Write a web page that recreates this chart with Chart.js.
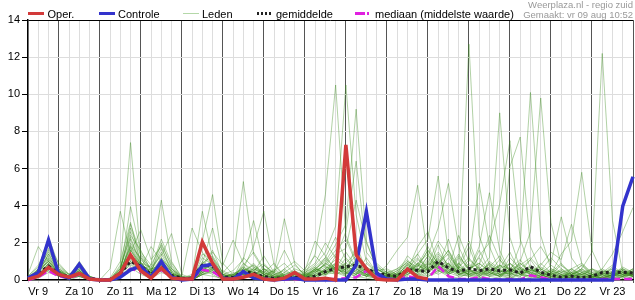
<!DOCTYPE html>
<html>
<head>
<meta charset="utf-8">
<script src="https://cdn.jsdelivr.net/npm/chart.js@4/dist/chart.umd.min.js"></script>
<style>
  body { margin: 0; background: #fff; }
</style>
</head>
<body>
<canvas id="myChart" width="635" height="300"></canvas>
<script>
// tijdstappen van 6 uur, vanaf vr 9 aug 06:00 (index 0) t/m za 24 00:00 (index 59)
const dagen = ['Vr 9', 'Za 10', 'Zo 11', 'Ma 12', 'Di 13', 'Wo 14', 'Do 15', 'Vr 16',
               'Za 17', 'Zo 18', 'Ma 19', 'Di 20', 'Wo 21', 'Do 22', 'Vr 23'];
const yTicks = [0, 2, 4, 6, 8, 10, 12, 14];

// neerslag in mm per 6 uur
const oper = [0.05,0.2,0.68,0.3,0.15,0.35,0.05,0,0,0.37,
              1.35,0.5,0.1,0.65,0.1,0.05,0.05,2.05,0.9,0.05,
              0.05,0.15,0.3,0.05,0,0.1,0.4,0.05,0.05,0.1,
              0,7.27,1.35,0.6,0.05,0,0,0.58,0.15,0.05];
const controle = [0.1,0.4,2.15,0.3,0.1,0.85,0.05,0,0,0.15,
                  0.55,0.75,0.15,1.0,0.15,0,0.05,0.75,0.85,0.1,
                  0.05,0.45,0.1,0.05,0,0.05,0.1,0,0,0,
                  0,0,0.8,3.68,0.36,0.05,0,0.05,0.05,0,
                  0,0,0,0,0,0,0,0,0,0,
                  0,0,0,0,0,0,0,0,3.98,5.56];
const gemiddelde = [0.05,0.35,0.75,0.35,0.15,0.35,0.1,0.02,0.02,0.35,
                    1.0,0.75,0.3,0.7,0.25,0.1,0.1,0.8,0.75,0.15,
                    0.15,0.45,0.36,0.18,0.1,0.1,0.15,0.08,0.2,0.45,
                    0.63,0.72,0.8,0.6,0.38,0.27,0.2,0.55,0.52,0.45,
                    1.0,0.65,0.45,0.63,0.5,0.6,0.5,0.55,0.37,0.72,
                    0.42,0.25,0.15,0.2,0.12,0.2,0.4,0.4,0.42,0.37];
const mediaan = [0,0.15,0.5,0.2,0.1,0.3,0.05,0,0,0.2,
                 0.6,0.45,0.15,0.55,0.15,0.05,0.05,0.55,0.45,0.1,
                 0.05,0.3,0.15,0.05,0.02,0.02,0.05,0.02,0.02,0.05,
                 0.05,0.1,0.15,0.5,0.15,0.05,0.05,0.2,0.1,0.05,
                 0.75,0.2,0.05,0.05,0.15,0.05,0.02,0.05,0.02,0.25,
                 0.15,0.02,0.02,0.02,0.02,0.02,0.05,0.05,0.05,0.05];
const leden = [
  [0,0.3,0.9,0.4,0.1,0.5,0.1,0,0,0.8, 7.4,1.2,0.3,0.6,0.2,0,0,0.5,0.9,0.1, 0,0.4,0.2,0.1,0,0,0.2,0,0.3,0.5, 0.8,0.4,0.2,0.1,0,0,0,0.3,0.6,0.2, 0.4,1.2,0.3,0.2,0.5,0.8,0.3,0.2,0,0.1, 0.2,0,0,0.3,0.5,0.1,0,0.2,0.4,0.3],
  [0.1,0.5,1.6,0.6,0.2,0.7,0.1,0,0,0.5, 3.95,1.5,0.8,4.3,1.0,0.1,0,0.3,0.6,0, 0.1,0.8,1.5,0.6,0.2,0.1,0,0,0.4,0.9, 1.6,2.2,0.9,0.4,0.2,0.1,0.3,0.8,1.4,0.5, 0.9,0.3,0.6,1.8,0.4,0.2,0.1,0.6,1.1,0.3, 0.1,0,0.2,0.6,0.9,0.3,0.1,0.2,0.5,0.2],
  [0,0.2,0.6,0.3,0.1,0.3,0,0,0.6,3.7, 1.4,0.6,0.2,0.9,0.3,0,0.1,1.2,0.8,0.2, 0,0.1,0.6,0.3,0.1,0.6,0.2,0.1,0.2,0.3, 0.6,1.5,0.7,0.2,0.6,0.3,0.1,0.2,0.9,1.4, 0.5,0.2,0.1,0.4,1.6,0.5,0.2,0.9,0.3,0.1, 0.5,1.2,0.6,0.2,0.1,0,0.3,0.7,0.2,0.1],
  [0.1,0.6,1.2,0.5,0.2,0.4,0.1,0,0.1,1.0, 3.1,0.9,0.4,1.1,0.6,0.1,0.3,2.1,4.6,0.9, 0.3,0.2,0.1,0.8,0.3,0.1,0,0.2,0.6,1.1, 0.4,0.3,1.9,0.5,0.2,0,0,0.4,0.8,0.5, 1.9,0.6,0.2,0.3,0.8,2.4,1.1,0.3,0.2,0.6, 0.3,0.1,0,0.2,0.3,0.1,0.4,0.8,0.3,0.2],
  [0,0.1,0.4,0.2,0,0.2,0,0,0,0.3, 2.2,0.8,0.5,0.7,0.2,0,0.2,3.7,1.2,0.4, 1.0,5.3,1.4,0.5,0.1,0.3,0.1,0,0.5,0.2, 0.9,0.6,0.3,1.2,0.4,0.2,0.1,0.6,0.3,0.8, 1.1,0.4,0.9,0.2,0.1,0.3,0.6,1.5,0.4,0.2, 0.1,0.3,0.8,0.4,0.1,0,0.1,0.3,0.6,0.2],
  [0.2,0.8,1.9,0.9,0.3,0.6,0.2,0,0,0.4, 1.8,1.2,0.6,0.8,0.3,0.1,0,0.6,0.5,0.3, 0.5,1.1,3.2,0.8,0.4,3.3,0.9,0.2,0.1,0.4, 0.7,0.2,0.1,0.3,0.9,0.4,0.2,0.5,1.8,2.6, 0.8,1.6,0.5,0.3,0.2,0.7,1.3,0.4,0.1,0.3, 0.9,0.4,0.1,0.2,0.6,0.3,0.1,0,0.2,0.5],
  [0,0.3,0.8,0.3,0.1,0.4,0.1,0,0,0.2, 1.5,2.7,1.1,1.8,0.4,0.1,0.1,0.8,1.6,0.3, 0.2,0.6,1.8,3.7,0.8,0.2,0.1,0.3,0.7,1.2, 2.3,1.1,0.6,0.2,0.1,0.3,0.2,0.9,0.5,0.4, 1.3,0.7,0.3,0.5,1.2,0.4,0.2,0.1,0.3,0.8, 0.4,0.2,0.3,0.1,0,0.1,0.4,0.2,0.1,0.3],
  [0.1,0.4,1.1,0.4,0.1,0.3,0,0,0.1,0.6, 2.6,1.0,0.2,0.5,0.1,0,0,0.4,0.7,0.1, 0,0.3,0.1,0.4,0.9,0.2,0.1,0.3,1.4,4.6, 10.5,2.4,1.0,0.6,0.3,0.1,0.3,0.6,0.2,0.4, 0.8,0.3,1.2,0.6,0.2,0.4,0.8,0.3,0.6,1.1, 0.3,0.1,0.2,0.4,0.2,0.1,0,0.3,0.2,0.6],
  [0,0.2,0.5,0.2,0.1,0.2,0,0,0,0.3, 1.1,0.5,0.3,0.6,0.2,0,0,0.3,0.5,0.1, 0.2,0.4,0.9,0.3,0.1,0.2,0.6,0.4,0.8,1.5, 2.9,10.5,3.5,1.0,0.4,0.2,0.1,0.3,0.7,1.6, 0.6,0.9,0.3,0.4,0.7,0.3,0.2,0.5,0.9,0.4, 0.2,0.5,0.3,0.1,0.2,0.6,0.3,0.1,0,0.2],
  [0.1,0.3,0.7,0.3,0.1,0.4,0.1,0,0,0.2, 0.9,0.4,0.2,1.2,0.5,0.1,0,0.6,0.3,0, 0.1,0.2,0.5,0.2,0,0.1,0.3,0.1,0.6,1.0, 1.9,3.0,9.2,2.1,0.6,0.3,0.2,0.5,0.2,0.6, 1.0,0.4,0.8,2.1,0.6,0.2,0.4,0.9,0.3,0.2, 0.6,0.3,0.1,0.4,0.8,0.3,0.1,0.2,0.4,0.3],
  [0,0.4,1.4,0.5,0.2,0.5,0.1,0,0,0.5, 1.9,0.8,0.4,2.0,0.7,0.1,0.1,1.0,0.6,0.2, 0.3,0.7,0.4,1.3,0.4,0.2,0.1,0.5,0.9,2.0, 1.2,2.6,6.4,1.5,0.8,0.3,0.1,0.4,1.1,0.7, 0.3,0.6,1.4,0.5,0.3,0.9,0.4,0.2,0.7,0.3, 0.1,0.2,0.6,0.3,0.1,0.2,0.5,0.3,0.1,0.4],
  [0.1,0.5,1.0,0.4,0.2,0.6,0.1,0,0,0.4, 1.6,0.7,0.3,0.8,0.2,0,0,0.5,1.0,0.3, 0.1,0.3,0.2,0.6,0.3,0.1,0.2,0.6,1.3,0.7, 0.6,0.4,0.8,0.3,0.2,0.1,0.4,1.0,0.6,0.9, 2.1,1.3,0.6,12.7,2.4,0.8,0.3,0.1,0.4,0.6, 0.3,0.1,0,0.2,0.4,0.2,0.1,0.3,0.5,0.2],
  [0,0.2,0.9,0.4,0.1,0.3,0,0,0,0.6, 2.4,1.6,0.5,1.4,0.4,0.1,0.2,0.9,1.3,0.4, 0.2,0.5,0.3,0.1,0.6,0.2,0.1,0.3,0.5,0.8, 1.4,1.7,4.3,2.0,0.7,0.4,0.2,0.6,0.3,0.2, 0.5,0.9,0.4,1.1,0.6,1.2,9.0,2.3,0.6,0.3, 0.2,0.4,0.1,0.3,0.6,0.2,0.1,0.4,0.3,0.2],
  [0.2,0.7,1.5,0.7,0.3,0.8,0.2,0,0,0.3, 1.3,0.6,0.4,0.9,0.3,0.1,0,0.4,0.7,0.2, 0.1,0.9,0.5,0.2,0.1,0.4,0.2,0,0.3,0.6, 0.9,0.5,1.1,0.6,0.3,0.8,1.6,2.3,5.1,1.2, 0.7,0.4,1.3,0.6,0.2,0.5,0.8,0.4,1.9,10.1, 2.4,0.6,0.3,0.1,0.2,0.4,0.3,0.1,0.2,0.5],
  [0,0.3,0.6,0.3,0.1,0.2,0,0,0,0.4, 0.8,0.5,0.2,0.7,0.4,0.1,0,0.3,0.2,0.1, 0.3,0.6,0.4,0.2,0.1,0.3,0.5,0.2,0.4,0.9, 0.5,0.8,0.4,0.2,0.6,0.3,0.2,0.5,1.4,2.2, 5.6,1.5,0.6,0.3,0.4,0.9,0.5,0.3,1.0,2.6, 9.8,3.1,0.8,0.3,0.2,0.1,0.4,0.6,0.3,0.2],
  [0.1,0.4,1.0,0.5,0.2,0.4,0.1,0,0,0.2, 1.2,0.9,0.4,1.0,0.3,0,0.1,0.6,0.9,0.2, 0.1,0.2,0.7,0.4,0.2,0.1,0,0.2,0.5,0.3, 0.7,0.3,0.9,0.5,0.2,0.1,0.3,0.8,0.5,1.3, 2.8,5.2,1.8,0.6,0.3,0.4,0.2,0.6,0.3,0.5, 0.2,0.4,0.9,0.3,0.6,1.5,12.2,3.2,0.4,0.2],
  [0,0.2,0.7,0.2,0.1,0.3,0,0,0,0.5, 1.7,0.6,0.3,0.6,0.2,0.1,0,0.5,0.8,0.1, 0.4,0.3,0.1,0.5,0.2,0,0.1,0.4,0.2,0.6, 1.1,0.7,0.3,0.9,0.4,0.2,0.1,0.3,0.6,0.4, 0.9,1.6,0.7,0.4,1.3,2.0,4.1,7.5,2.2,0.6, 0.3,0.8,0.4,0.2,0.1,0.3,0.2,0.4,0.6,0.3],
  [0.1,0.6,1.3,0.5,0.2,0.5,0.1,0,0,0.3, 1.0,0.4,0.6,2.2,0.9,0.2,0,0.4,0.6,0.2, 0.2,0.7,0.3,0.1,0.3,0.5,0.2,0.1,0.4,0.7, 0.4,1.2,0.6,0.3,0.1,0.4,0.6,1.1,0.4,0.8, 1.5,0.8,0.3,0.6,0.9,0.5,0.7,6.1,7.7,1.8, 0.5,0.2,0.1,0.6,0.3,0.2,0.1,0.3,0.2,0.4],
  [0,0.3,0.8,0.4,0.1,0.3,0.1,0,0,0.3, 1.4,0.7,0.2,0.5,0.1,0,0,0.3,0.4,0.1, 0,0.5,0.2,0.6,0.4,0.1,0.3,0.2,0.6,0.4, 0.8,0.5,0.3,0.6,0.2,0.1,0.2,0.5,0.9,0.6, 1.2,0.5,0.9,0.4,0.2,0.6,0.3,0.5,0.8,1.2, 0.6,0.3,1.4,2.1,5.8,1.6,0.4,0.2,0.5,0.3],
  [0.1,0.5,1.7,0.6,0.2,0.9,0.1,0,0,0.6, 2.8,1.3,0.5,1.5,0.6,0.1,0.2,1.4,1.1,0.3, 0.1,0.4,0.8,0.3,0.1,0.2,0.4,0.1,0.5,1.2, 0.6,0.9,1.5,0.7,0.3,0.2,0.5,1.0,0.7,1.6, 0.9,0.6,2.4,1.0,5.2,1.8,0.5,0.3,0.6,0.4, 0.2,0.5,0.3,0.1,0.4,0.6,0.2,0.1,0.3,0.5],
  [0,0.2,0.5,0.2,0.1,0.4,0,0,0,0.4, 1.2,0.5,0.8,1.9,0.8,0.1,0,0.5,0.9,0.2, 0.3,0.2,0.6,0.4,0.1,0.3,0.1,0.2,0.6,0.3, 0.4,0.7,0.5,0.2,0.1,0.3,0.6,0.9,0.4,0.7, 1.4,0.8,0.3,0.5,1.8,4.7,1.6,0.4,0.2,0.5, 0.4,0.2,0.5,0.3,0.8,0.2,0.6,1.4,2.6,3.9],
  [0.1,0.4,1.1,0.5,0.1,0.3,0.1,0,0,0.2, 1.6,0.9,0.7,1.3,2.5,0.3,0.1,0.6,0.4,0.1, 0.2,0.3,0.1,0.2,0.5,0.9,0.3,0.2,0.1,0.4, 0.6,0.3,0.7,0.4,0.2,0.5,0.3,0.6,1.2,0.5, 0.7,2.2,0.6,0.3,0.5,0.2,0.8,0.6,0.4,1.1, 1.8,0.9,3.4,1.2,0.4,0.2,0.1,0.3,0.7,0.4],
  [0,0.3,0.7,0.3,0.1,0.5,0.1,0,0,0.3, 1.0,0.6,0.3,0.8,0.3,0.2,2.8,1.5,0.7,0.2, 0.3,0.6,0.4,0.2,0.1,0.4,0.8,0.3,0.2,0.5, 0.9,0.4,0.2,0.5,0.3,0.1,0.4,0.7,0.5,1.1, 0.6,0.3,0.7,1.2,0.5,0.3,0.6,0.9,0.5,0.3, 0.8,1.5,1.1,3.0,0.9,0.4,0.2,0.5,0.3,0.6],
  [0.2,0.5,1.2,0.5,0.2,0.6,0.1,0,0,0.5, 1.8,0.7,0.4,0.6,0.2,0.1,0.1,0.7,1.5,0.8, 2.15,0.9,0.3,0.6,0.2,0.1,0.3,0.2,0.5,0.8, 0.3,0.6,1.0,0.4,0.2,0.3,0.1,0.4,0.8,1.8, 0.8,0.4,0.2,0.6,0.9,0.4,0.3,1.2,0.6,0.4, 0.3,0.1,0.4,0.6,0.2,0.1,0.5,0.4,0.2,0.3],
  [0,0.6,2.3,0.8,0.3,0.7,0.1,0,0,0.4, 1.4,0.8,0.3,0.9,0.5,0.1,0,0.4,0.6,0.2, 0.1,0.5,0.8,0.4,0.2,0.6,1.0,0.5,2.1,1.3, 0.5,0.7,1.3,0.6,0.3,0.2,0.1,0.5,0.3,0.6, 1.1,0.6,0.4,0.9,0.3,1.0,0.6,0.2,0.5,0.7, 0.4,0.2,0.1,0.5,0.3,0.6,0.4,0.2,0.6,0.4],
  [0.3,1.8,1.0,0.4,0.2,1.0,0.2,0,0,0.2, 0.7,0.3,0.1,0.4,0.2,0,0,0.3,0.5,0.1, 0,0.2,0.4,0.1,0,0.2,0.1,0.3,0.2,0.5, 0.3,0.6,0.9,0.3,0.1,0,0.2,0.6,0.4,1.0, 0.5,0.3,0.6,0.3,0.1,0.4,0.2,0.6,0.3,0.2, 0.1,0.3,0.2,0.1,0.4,0.2,0.1,0.3,0.5,0.2],
  [0.1,0.4,1.4,0.6,0.3,0.5,0.2,0,0,0.3, 2.0,1.1,0.5,1.7,0.6,0.2,0.1,0.9,2.8,0.5, 0.2,0.4,0.6,0.3,0.5,0.2,0.1,0.4,0.7,0.3, 1.3,0.8,0.4,0.2,0.5,0.6,0.3,1.3,0.8,0.5, 0.9,1.4,0.5,0.3,0.6,0.4,1.1,0.5,0.3,0.6, 0.3,0.5,0.2,0.4,0.3,0.1,0.3,0.6,0.4,0.2],
  [0,0.3,0.9,0.3,0.1,0.3,0.1,0,0,0.4, 1.3,0.6,1.8,1.0,0.3,0.1,0,0.6,0.9,0.1, 0,0.6,0.3,0.2,0.4,1.6,0.5,0.2,0.3,0.9, 0.6,0.4,0.3,0.7,0.4,0.2,0.5,0.8,0.4,0.9, 0.6,0.9,0.4,0.2,0.4,0.7,0.5,0.3,0.9,0.5, 0.6,0.3,0.5,0.2,0.1,0.3,0.6,0.3,0.2,0.4],
  [0.1,0.2,0.6,0.2,0.1,0.2,0,0,0,0.5, 3.0,1.4,0.6,0.7,0.3,0,0,0.4,1.2,0.2, 0.1,1.2,0.7,0.3,0.1,0.2,0.3,0.1,0.2,0.6, 0.4,0.2,0.5,0.3,0.6,0.3,0.2,0.4,0.9,0.3, 0.5,0.4,0.7,0.5,0.3,0.6,0.4,0.7,0.3,0.5, 0.7,0.4,0.2,0.3,0.5,0.3,0.2,0.4,0.3,0.6],
  [0,0.5,1.0,0.4,0.2,0.4,0.1,0,0,0.7, 2.3,0.9,0.4,1.2,0.4,0.1,0.1,0.8,0.6,0.3, 0.2,0.3,0.5,0.9,0.3,0.1,0.2,0.3,0.6,0.4, 0.5,0.9,0.6,0.3,0.2,0.4,0.3,0.6,0.5,1.3, 0.7,0.5,0.3,0.8,0.4,0.5,0.3,0.4,0.7,0.3, 0.2,0.6,0.4,0.2,0.3,0.5,0.3,0.2,0.4,0.3]
];

const ctx = document.getElementById('myChart').getContext('2d');
const lettertype = '"Liberation Sans", Arial, sans-serif';

const punten = reeks => reeks.map((v, i) => ({ x: i, y: v }));

const ledenSets = leden.map((reeks, n) => ({
    label: 'Lid ' + (n + 1),
    data: punten(reeks),
    borderColor: 'rgba(60, 140, 30, 0.4)',
    borderWidth: 1,
    order: 10
}));

// legenda en kopregel zelf tekenen
const kop = {
    id: 'kop',
    afterDraw(chart) {
        const c = chart.ctx;
        const lijn = (x1, x2, kleur, dikte, streep) => {
            c.beginPath();
            c.strokeStyle = kleur;
            c.lineWidth = dikte;
            c.setLineDash(streep);
            c.moveTo(x1, 13.5);
            c.lineTo(x2, 13.5);
            c.stroke();
        };
        c.save();
        lijn(28, 44, '#d23a3a', 3, []);
        lijn(99, 115, '#3333cc', 3, []);
        lijn(183, 199, '#b4d8a8', 1, []);
        lijn(257, 273, '#222', 3, [2, 2]);
        lijn(355, 365, '#e020e0', 3, []);
        lijn(367, 369, '#e020e0', 3, []);
        c.setLineDash([]);
        c.fillStyle = '#000';
        c.font = '11px ' + lettertype;
        c.textBaseline = 'alphabetic';
        c.fillText('Oper.', 47.5, 17.5);
        c.fillText('Controle', 118, 17.5);
        c.fillText('Leden', 202, 17.5);
        c.fillText('gemiddelde', 276, 17.5);
        c.fillText('mediaan (middelste waarde)', 375, 17.5);

        c.fillStyle = '#999';
        c.font = '9.5px ' + lettertype;
        c.textAlign = 'right';
        c.fillText('Weerplaza.nl - regio zuid', 633, 7.5);
        c.fillText('Gemaakt: vr 09 aug 10:52', 633, 17.5);
        c.restore();
    }
};

new Chart(ctx, {
    type: 'line',
    data: {
        datasets: [
            { label: 'Oper.', data: punten(oper), borderColor: '#d23a3a', borderWidth: 3.5, order: 0, clip: false },
            { label: 'Controle', data: punten(controle), borderColor: '#3333cc', borderWidth: 3.5, order: 1, clip: false },
            { label: 'gemiddelde', data: punten(gemiddelde), borderColor: '#222', borderWidth: 3, borderDash: [3, 3], order: 2, clip: false },
            { label: 'mediaan (middelste waarde)', data: punten(mediaan), borderColor: '#e020e0', borderWidth: 2.5, borderDash: [8, 4], order: 3, clip: false },
            ...ledenSets
        ]
    },
    options: {
        responsive: false,
        animation: false,
        devicePixelRatio: 1,
        layout: { padding: { top: 20, right: 2, left: 0, bottom: 0 } },
        elements: { point: { radius: 0 }, line: { tension: 0 } },
        plugins: { legend: { display: false }, tooltip: { enabled: false } },
        scales: {
            x: {
                type: 'linear',
                min: 0,
                max: 59,
                afterFit: s => { s.height = 20; },
                border: { color: '#000', width: 1.5 },
                grid: {
                    color: g => (g.tick && (g.tick.value - 3) % 4 === 0) ? '#555' : '#ddd',
                    lineWidth: 1,
                    tickLength: 3
                },
                ticks: {
                    stepSize: 1,
                    autoSkip: false,
                    maxRotation: 0,
                    minRotation: 0,
                    padding: 2,
                    color: '#000',
                    font: { family: lettertype, size: 11 },
                    callback: v => (v - 1) % 4 === 0 ? dagen[(v - 1) / 4] : ''
                }
            },
            y: {
                min: yTicks[0],
                max: yTicks[yTicks.length - 1],
                afterFit: s => { s.width = 28; },
                border: { color: '#000', width: 1.5 },
                grid: {
                    color: g => (g.tick && g.tick.value === 14) ? '#000' : '#ddd',
                    tickColor: '#000',
                    tickLength: 6
                },
                ticks: {
                    stepSize: 2,
                    padding: 2,
                    color: '#000',
                    font: { family: lettertype, size: 11 }
                }
            }
        }
    },
    plugins: [kop]
});
</script>
</body>
</html>
